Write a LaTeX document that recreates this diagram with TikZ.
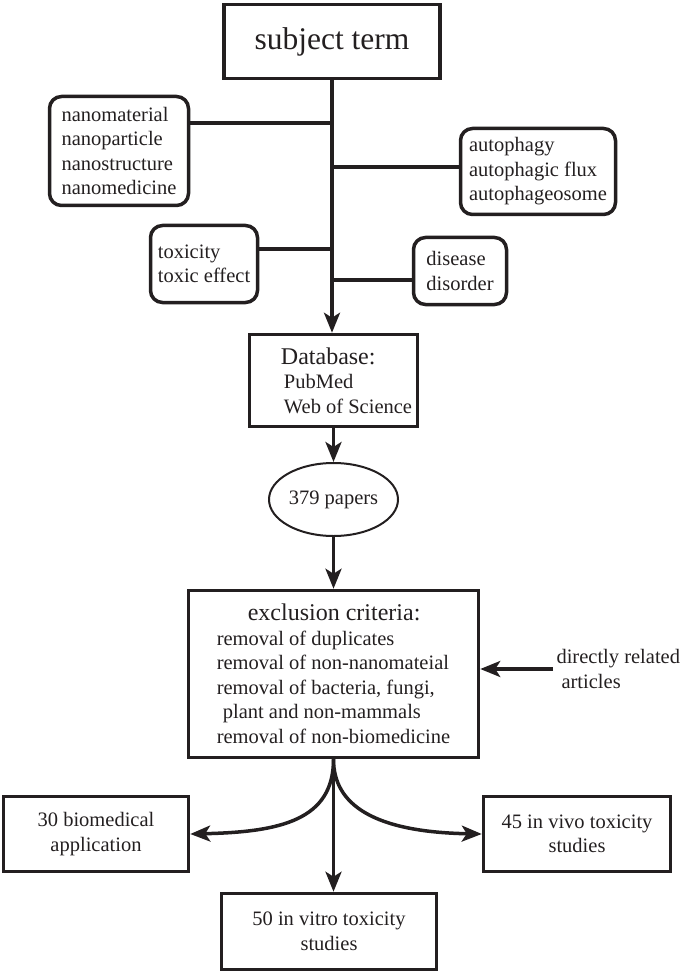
\documentclass[tikz,border=0pt]{standalone}
\usepackage{fontspec}
\setmainfont{Liberation Serif}
\usetikzlibrary{shapes.geometric,arrows.meta,positioning,calc}
\definecolor{ink}{HTML}{231F20}

\tikzset{
  termbox/.style={draw=ink, line width=3.5pt, rounded corners=12pt, align=left, inner sep=0pt, text=ink, font=\fontsize{20.5}{24.5}\selectfont},
  mainbox/.style={draw=ink, line width=3.5pt, align=left, inner sep=0pt, text=ink, font=\fontsize{20.5}{24.5}\selectfont},
  resultbox/.style={mainbox, align=center},
  conn/.style={draw=ink, line width=3.5pt},
  arr/.style={conn, -{Stealth[length=20pt,width=16pt,inset=5pt]}}
}

\begin{document}
\begin{tikzpicture}[x=1pt,y=-1pt]
\useasboundingbox (0,0) rectangle (685,973);

% search terms
\node[mainbox, minimum width=216pt, minimum height=74pt, font=\fontsize{31.5}{36}\selectfont] (subject) at (332,41.5) {subject term};
\node[termbox, minimum width=139pt, minimum height=109pt] (nano) at (119,151) {nanomaterial\\nanoparticle\\nanostructure\\nanomedicine};
\node[termbox, minimum width=155pt, minimum height=86pt] (auto) at (538,171.5) {autophagy\\autophagic flux\\autophageosome};
\node[termbox, minimum width=107pt, minimum height=77pt] (tox) at (204,264) {toxicity\\toxic effect};
\node[termbox, minimum width=93pt, minimum height=67pt] (dis) at (460,271) {disease\\disorder};

% database and papers
\node[mainbox, minimum width=168pt, minimum height=92pt] (db) at (333.5,380.5) {\hspace*{26pt}{\fontsize{24}{27}\selectfont Database:}\\\hspace*{29pt}PubMed\\\hspace*{29pt}Web of Science};
\node[draw=ink, ellipse, line width=2pt, minimum width=129pt, minimum height=73pt, inner sep=0pt, text=ink, font=\fontsize{20.5}{24.5}\selectfont] (papers) at (333.5,499.5) {379 papers};

% exclusion
\node[mainbox, minimum width=290pt, minimum height=167pt] (excl) at (333.5,674) {\hspace*{31pt}{\fontsize{24}{27}\selectfont exclusion criteria:}\\removal of duplicates\\removal of non-nanomateial\\removal of bacteria, fungi,\\\hspace*{6pt}plant and non-mammals\\removal of non-biomedicine};
\node[anchor=west, align=left, text=ink, font=\fontsize{20.5}{24.5}\selectfont] (related) at (553,669) {directly related\\\hspace*{5pt}articles};

% results
\node[resultbox, minimum width=185pt, minimum height=75pt] (biomed) at (96,834) {30 biomedical\\application};
\node[resultbox, minimum width=187pt, minimum height=75pt] (invivo) at (577,834) {45 in vivo toxicity\\studies};
\node[resultbox, minimum width=215pt, minimum height=76pt] (invitro) at (329,931.5) {50 in vitro toxicity\\studies};

% trunk and branches
\coordinate (jnano) at (332,123);
\coordinate (jauto) at (332,167);
\coordinate (jtox) at (332,249);
\coordinate (jdis) at (332,280);
\draw[arr] (subject.south) -- (subject.south |- db.north);
\draw[conn] (jnano) -- (jnano -| nano.east);
\draw[conn] (jauto) -- (jauto -| auto.west);
\draw[conn] (jtox) -- (jtox -| tox.east);
\draw[conn] (jdis) -- (jdis -| dis.west);

\draw[arr] (db.south) -- (papers.north);
\draw[arr] (papers.south) -- (papers.south |- excl.north);
\draw[arr] (related.west) -- (related.west -| excl.east);

\draw[arr] (excl.south) .. controls ++(0,61) and ++(90,-2) .. (biomed.east);
\draw[arr] (excl.south) .. controls ++(0,46) and ++(-107,-2) .. (invivo.west);
\draw[arr] (excl.south) -- (excl.south |- invitro.north);
\end{tikzpicture}
\end{document}
